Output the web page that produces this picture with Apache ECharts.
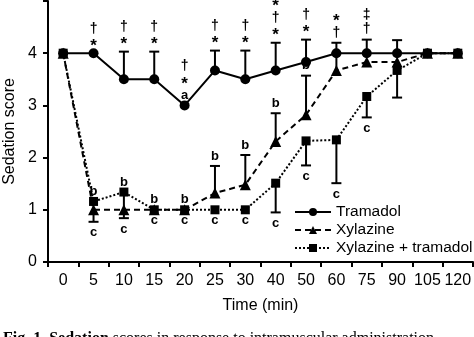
<!DOCTYPE html>
<html><head><meta charset="utf-8">
<script src="https://cdn.jsdelivr.net/npm/echarts@6/dist/echarts.min.js"></script>
<style>html,body{margin:0;padding:0;background:#fff}#c{width:474px;height:337px}</style>
</head><body><div id="c"></div>
<script>
// ---- data ----
const categories = ['0','5','10','15','20','25','30','40','50','60','75','90','105','120'];
const tramadol      = [4, 4, 3.5, 3.5, 3.0, 3.67, 3.5, 3.67, 3.83, 4.0, 4.0, 4.0, 4.0, 4.0];
const tramadolUpper = [null, null, 4.03, 4.03, null, 4.05, 4.05, 4.2, 4.26, 4.2, 4.26, 4.25, null, null];
const xylazine      = [4, 1.0, 1.0, 1.0, 1.0, 1.32, 1.48, 2.31, 2.82, 3.67, 3.83, 3.83, 4.0, 4.0];
const xylazineUpper = [null, null, null, null, null, 1.84, 2.05, 2.85, 3.57, 4.0, null, null, null, null];
const xylazineLower = [null, 0.77, null, null, null, null, null, null, null, null, null, null, null, null];
const combo         = [4, 1.16, 1.34, 1.0, 1.0, 1.0, 1.0, 1.51, 2.32, 2.34, 3.17, 3.67, 4.0, 4.0];
const comboLower    = [null, null, 0.84, null, null, null, null, 0.95, 1.85, 1.51, 2.77, 3.15, null, null];
// significance marks (stacked bottom to top)
const tramadolMarks = ['', '*†', '*†', '*†', 'a*†', '*†', '*†', '*†*', '*†', '†*', '†‡', '', '', ''];
const xylazineMarks = ['', 'b', 'b', 'b', 'b', 'b', 'b', 'b', 'b', '', '', '', '', ''];
const comboMarks    = ['', 'c', 'c', 'c', 'c', 'c', 'c', 'c', 'c', 'c', 'c', '', '', ''];
const yTicks = [0, 1, 2, 3, 4, 5];
const yTickLabels = ['0', '1', '2', '3', '4', ''];
const seriesNames = ['Tramadol', 'Xylazine', 'Xylazine + tramadol'];

// ---- build ----
const FONT = 'Liberation Sans, Arial, Helvetica, sans-serif';
const chart = echarts.init(document.getElementById('c'), null, {renderer: 'canvas'});

function errData(vals, ends) {
  const out = [];
  vals.forEach((v, i) => { if (ends[i] != null) out.push([i, v, ends[i]]); });
  return out;
}
function errRender(params, api) {
  const i = api.value(0);
  const p = api.coord([i, api.value(1)]);
  const e = api.coord([i, api.value(2)]);
  return {type: 'group', children: [
    {type: 'line', shape: {x1: p[0], y1: p[1], x2: e[0], y2: e[1]}, style: {stroke: '#000', lineWidth: 2}},
    {type: 'line', shape: {x1: e[0] - 5, y1: e[1], x2: e[0] + 5, y2: e[1]}, style: {stroke: '#000', lineWidth: 2}}
  ]};
}
function maxOf(arr) { const a = arr.filter(v => v != null); return Math.max.apply(null, a); }
function minOf(arr) { const a = arr.filter(v => v != null); return Math.min.apply(null, a); }

const tAnchor = [], bAnchor = [], cAnchor = [];
categories.forEach((c, i) => {
  if (tramadolMarks[i]) tAnchor.push([i, maxOf([tramadol[i], tramadolUpper[i]])]);
  if (xylazineMarks[i]) bAnchor.push([i, maxOf([combo[i], xylazine[i], xylazineUpper[i]])]);
  if (comboMarks[i]) cAnchor.push([i, minOf([combo[i], xylazine[i], comboLower[i], xylazineLower[i]])]);
});

function glyph(ch, x, y) {
  let size = 14, dy = 0, weight = 'normal';
  if (ch === '*') { size = 17; dy = 3; weight = 'bold'; }
  if (ch === '†' || ch === '‡') { size = 14; dy = 0; weight = 'bold'; }
  if (ch === 'a' || ch === 'b' || ch === 'c') { size = 13; dy = 0; weight = 'bold'; }
  return {type: 'text', style: {text: ch, x: x, y: y + dy, align: 'center', verticalAlign: 'middle',
    font: weight + ' ' + size + 'px ' + FONT, fill: '#000'}};
}
function markRender(marks, dir) {
  return function (params, api) {
    const i = api.value(0);
    const p = api.coord([i, api.value(1)]);
    const chars = Array.from(marks[i]);
    const children = chars.map((ch, k) => {
      const y = dir < 0 ? p[1] - 10 - k * 14.5 : p[1] + 11 + k * 14.5;
      return glyph(ch, p[0], y);
    });
    return {type: 'group', children: children};
  };
}

const option = {
  animation: false,
  backgroundColor: '#fff',
  textStyle: {fontFamily: FONT},
  grid: {left: 48, right: 1, top: 1, bottom: 75, containLabel: false, outerBoundsMode: 'none'},
  xAxis: {
    type: 'category', data: categories, boundaryGap: true,
    name: 'Time (min)', nameLocation: 'middle', nameGap: 36,
    nameTextStyle: {fontSize: 16, color: '#000', fontFamily: FONT},
    axisLine: {lineStyle: {color: '#000', width: 2}},
    axisTick: {show: true, interval: 0, length: 5, lineStyle: {color: '#000', width: 2}},
    axisLabel: {interval: 0, fontSize: 16, color: '#000', margin: 11, fontFamily: FONT},
    splitLine: {show: false}
  },
  yAxis: {
    type: 'value', min: yTicks[0], max: yTicks[yTicks.length - 1], interval: 1,
    name: 'Sedation score', nameLocation: 'middle', nameGap: 27,
    nameTextStyle: {fontSize: 16, color: '#000', fontFamily: FONT},
    axisLine: {show: true, lineStyle: {color: '#000', width: 2}},
    axisTick: {show: true, length: 5, lineStyle: {color: '#000', width: 2}},
    axisLabel: {fontSize: 16, color: '#000', margin: 11, fontFamily: FONT,
      formatter: v => yTickLabels[yTicks.indexOf(v)]},
    splitLine: {show: false}
  },
  legend: {
    orient: 'vertical', left: 294, top: 204, padding: 0, itemWidth: 36, itemHeight: 10, itemGap: 2,
    data: seriesNames,
    textStyle: {fontSize: 15.5, color: '#000', fontFamily: FONT}
  },
  series: [
    {type: 'custom', renderItem: errRender, data: errData(tramadol, tramadolUpper), encode: {x: 0, y: [1, 2]}, z: 1, silent: true},
    {type: 'custom', renderItem: errRender, data: errData(xylazine, xylazineUpper), encode: {x: 0, y: [1, 2]}, z: 1, silent: true},
    {type: 'custom', renderItem: errRender, data: errData(xylazine, xylazineLower), encode: {x: 0, y: [1, 2]}, z: 1, silent: true},
    {type: 'custom', renderItem: errRender, data: errData(combo, comboLower), encode: {x: 0, y: [1, 2]}, z: 1, silent: true},
    {name: seriesNames[2], type: 'line', data: combo, symbol: 'rect', symbolSize: 9, z: 3,
      lineStyle: {color: '#000', width: 2, type: [2, 2]}, itemStyle: {color: '#000'}},
    {name: seriesNames[1], type: 'line', data: xylazine, symbol: 'triangle', symbolSize: 11, z: 4,
      lineStyle: {color: '#000', width: 2, type: [6, 4]}, itemStyle: {color: '#000'}},
    {name: seriesNames[0], type: 'line', data: tramadol, symbol: 'circle', symbolSize: 10, z: 5,
      lineStyle: {color: '#000', width: 2, type: 'solid'}, itemStyle: {color: '#000'}},
    {type: 'custom', renderItem: markRender(tramadolMarks, -1), data: tAnchor, encode: {x: 0, y: 1}, z: 6, silent: true},
    {type: 'custom', renderItem: markRender(xylazineMarks, -1), data: bAnchor, encode: {x: 0, y: 1}, z: 6, silent: true},
    {type: 'custom', renderItem: markRender(comboMarks, 1), data: cAnchor, encode: {x: 0, y: 1}, z: 6, silent: true}
  ],
  graphic: [{
    type: 'text', left: 3, top: 331,
    style: {text: '{b|Fig. 1  Sedation} scores in response to intramuscular administration',
      rich: {b: {font: 'bold 16px Liberation Serif, serif', fill: '#000'}},
      font: '16px Liberation Serif, serif', fill: '#000'}
  }]
};
chart.setOption(option);
</script>
</body></html>
